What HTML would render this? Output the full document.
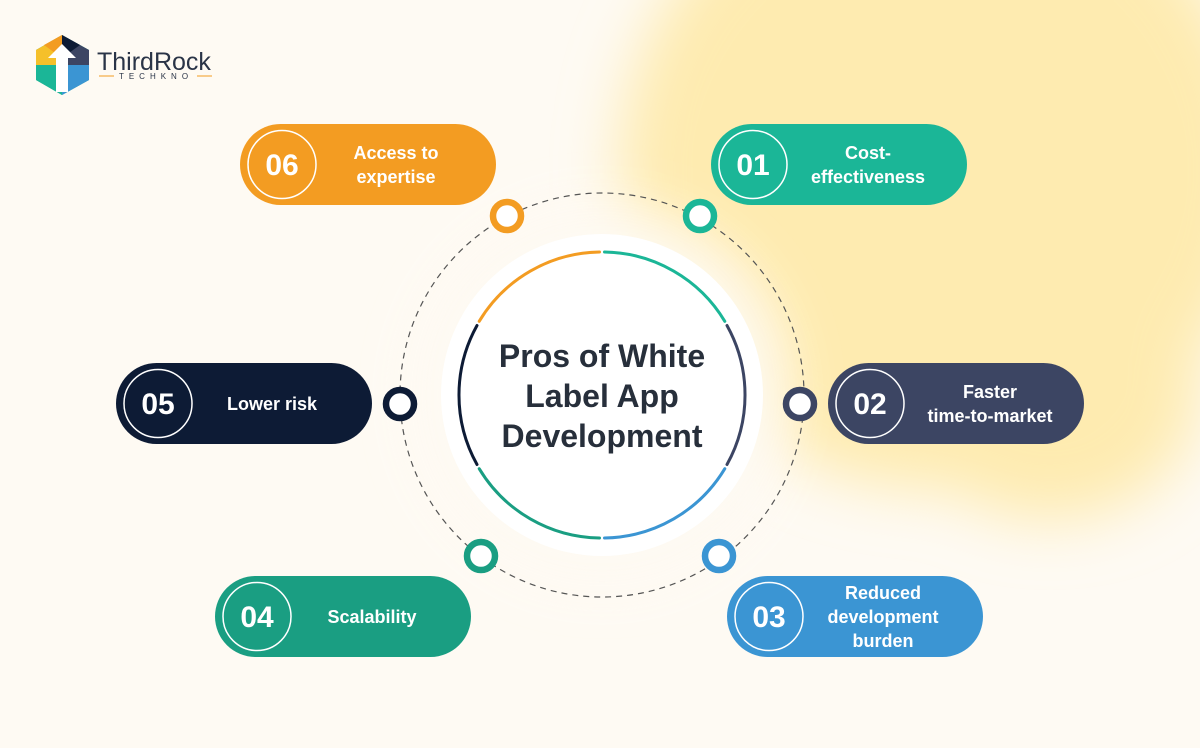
<!DOCTYPE html>
<html><head><meta charset="utf-8"><style>
html,body{margin:0;padding:0;background:#fefaf3;}
svg{display:block;}
text{font-family:"Liberation Sans",sans-serif;}
</style></head><body>
<svg width="1200" height="748" viewBox="0 0 1200 748" xmlns="http://www.w3.org/2000/svg">
<defs>
<filter id="blur" x="-50%" y="-50%" width="200%" height="200%"><feGaussianBlur stdDeviation="30"/></filter>
<filter id="blur2" x="-50%" y="-50%" width="200%" height="200%"><feGaussianBlur stdDeviation="25"/></filter>
</defs>
<rect width="1200" height="748" fill="#fefaf3"/>
<g filter="url(#blur)">
<ellipse cx="940" cy="170" rx="320" ry="320" fill="#feebb0"/>
<ellipse cx="1050" cy="390" rx="150" ry="130" fill="#feebb0"/>
</g>
<circle cx="602" cy="395" r="190" fill="#fefaf3" filter="url(#blur2)" opacity="0.9"/>
<circle cx="602" cy="395" r="202" fill="none" stroke="#555" stroke-width="1.2" stroke-dasharray="6 5"/>
<circle cx="602" cy="395" r="161" fill="#ffffff"/>
<g fill="none" stroke-width="3" stroke-linecap="round">
<path d="M479.2 321.3 A143 143 0 0 1 599.5 252" stroke="#f39c22"/>
<path d="M604.5 252 A143 143 0 0 1 724.8 321.3" stroke="#1bb697"/>
<path d="M727 325.5 A143 143 0 0 1 727 464.5" stroke="#3c4563"/>
<path d="M724.8 468.7 A143 143 0 0 1 604.5 538" stroke="#3b95d3"/>
<path d="M599.5 538 A143 143 0 0 1 479.2 468.7" stroke="#1a9e82"/>
<path d="M477 464.5 A143 143 0 0 1 477 325.5" stroke="#0d1b35"/>
</g>
<g font-size="32" fill="#272f3b" text-anchor="middle" font-weight="bold">
<text x="602" y="367">Pros of White</text>
<text x="602" y="407">Label App</text>
<text x="602" y="447">Development</text>
</g>
<g fill="#fff" stroke-width="6.5">
<circle cx="507" cy="216" r="14" stroke="#f39c22"/>
<circle cx="700" cy="216" r="14" stroke="#1bb697"/>
<circle cx="800" cy="404" r="14" stroke="#3c4563"/>
<circle cx="400" cy="404" r="14" stroke="#0d1b35"/>
<circle cx="481" cy="556" r="14" stroke="#1a9e82"/>
<circle cx="719" cy="556" r="14" stroke="#3b95d3"/>
</g>
<g font-weight="bold" fill="#fff">
<rect x="240" y="124" width="256" height="81" rx="40.5" fill="#f39c22"/>
<circle cx="282" cy="164.5" r="34" fill="none" stroke="#fff" stroke-width="1.5"/>
<text x="282" y="175" font-size="30" text-anchor="middle">06</text>
<text x="396" y="159" font-size="18" text-anchor="middle">Access to</text>
<text x="396" y="183" font-size="18" text-anchor="middle">expertise</text>

<rect x="711" y="124" width="256" height="81" rx="40.5" fill="#1bb697"/>
<circle cx="753" cy="164.5" r="34" fill="none" stroke="#fff" stroke-width="1.5"/>
<text x="753" y="175" font-size="30" text-anchor="middle">01</text>
<text x="868" y="159" font-size="18" text-anchor="middle">Cost-</text>
<text x="868" y="183" font-size="18" text-anchor="middle">effectiveness</text>

<rect x="116" y="363" width="256" height="81" rx="40.5" fill="#0d1b35"/>
<circle cx="158" cy="403.5" r="34" fill="none" stroke="#fff" stroke-width="1.5"/>
<text x="158" y="414" font-size="30" text-anchor="middle">05</text>
<text x="272" y="410" font-size="18" text-anchor="middle">Lower risk</text>

<rect x="828" y="363" width="256" height="81" rx="40.5" fill="#3c4563"/>
<circle cx="870" cy="403.5" r="34" fill="none" stroke="#fff" stroke-width="1.5"/>
<text x="870" y="414" font-size="30" text-anchor="middle">02</text>
<text x="990" y="398" font-size="18" text-anchor="middle">Faster</text>
<text x="990" y="422" font-size="18" text-anchor="middle">time-to-market</text>

<rect x="215" y="576" width="256" height="81" rx="40.5" fill="#1a9e82"/>
<circle cx="257" cy="616.5" r="34" fill="none" stroke="#fff" stroke-width="1.5"/>
<text x="257" y="627" font-size="30" text-anchor="middle">04</text>
<text x="372" y="623" font-size="18" text-anchor="middle">Scalability</text>

<rect x="727" y="576" width="256" height="81" rx="40.5" fill="#3b95d3"/>
<circle cx="769" cy="616.5" r="34" fill="none" stroke="#fff" stroke-width="1.5"/>
<text x="769" y="627" font-size="30" text-anchor="middle">03</text>
<text x="883" y="599" font-size="18" text-anchor="middle">Reduced</text>
<text x="883" y="623" font-size="18" text-anchor="middle">development</text>
<text x="883" y="647" font-size="18" text-anchor="middle">burden</text>
</g>
<g>
<polygon points="62,35 89,50 89,80 62,95 36,80 36,50" fill="#1a9e82"/>
<polygon points="62,35 36,50 36,65 62,65" fill="#f5c02a"/>
<polygon points="62,35 44,45 62,58" fill="#f39c22"/>
<polygon points="62,35 89,50 89,65 62,65" fill="#3c4563"/>
<polygon points="62,35 80,45 62,58" fill="#0d1b35"/>
<polygon points="62,65 89,65 89,80 62,95" fill="#3b95d3"/>
<polygon points="62,65 36,65 36,80 62,95" fill="#1bb697"/>
<polygon points="62,44 76,58 68,58 68,92 56,92 56,58 48,58" fill="#fff"/>
<text x="97" y="70" font-size="25" fill="#2a3447">ThirdRock</text>
<line x1="99" y1="76" x2="114" y2="76" stroke="#f39c22" stroke-width="1"/>
<line x1="197" y1="76" x2="212" y2="76" stroke="#f39c22" stroke-width="1"/>
<text x="156" y="79" font-size="8" fill="#2a3447" text-anchor="middle" letter-spacing="5">TECHKNO</text>
</g>
</svg>
</body></html>
